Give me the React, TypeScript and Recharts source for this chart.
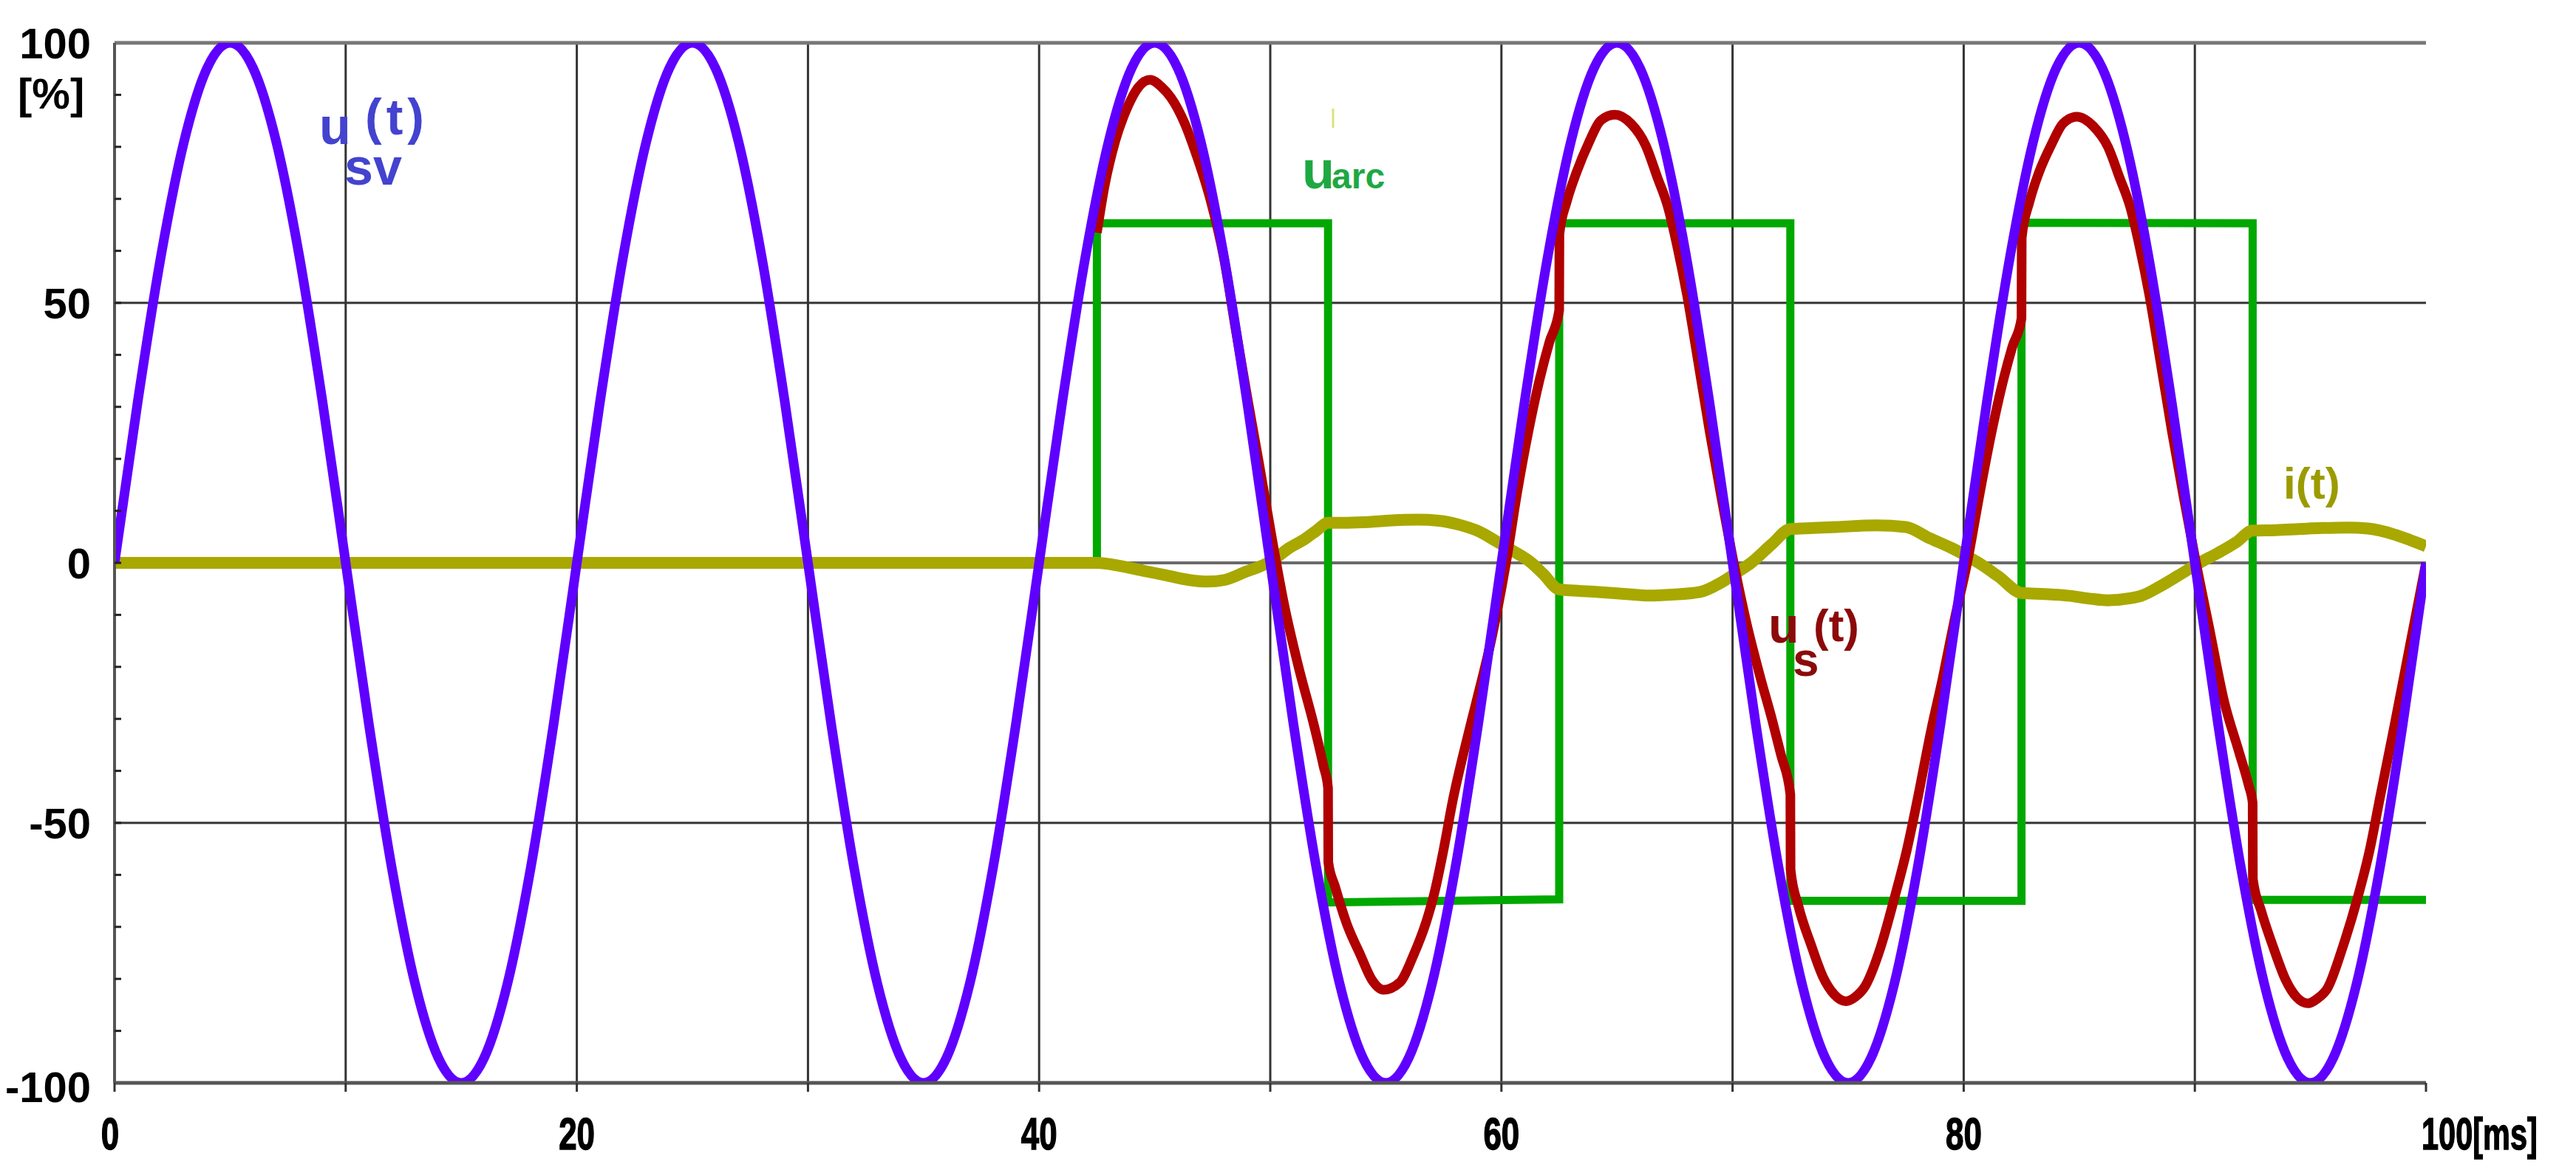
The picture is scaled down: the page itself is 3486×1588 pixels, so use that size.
import React from 'react';
import { LineChart, Line, XAxis, YAxis, CartesianGrid } from 'recharts';

const W = 3486;
const H = 1588;
const FONT = '"Liberation Sans", Arial, Helvetica, sans-serif';

// u_sv(t) - source voltage, read every 1 ms
const svTimes = [
  0, 1, 2, 3, 4, 5, 6, 7, 8, 9, 10, 11, 12, 13, 14, 15, 16, 17, 18, 19,
  20, 21, 22, 23, 24, 25, 26, 27, 28, 29, 30, 31, 32, 33, 34, 35, 36, 37, 38, 39,
  40, 41, 42, 43, 44, 45, 46, 47, 48, 49, 50, 51, 52, 53, 54, 55, 56, 57, 58, 59,
  60, 61, 62, 63, 64, 65, 66, 67, 68, 69, 70, 71, 72, 73, 74, 75, 76, 77, 78, 79,
  80, 81, 82, 83, 84, 85, 86, 87, 88, 89, 90, 91, 92, 93, 94, 95, 96, 97, 98, 99,
  100,
];
const svValues = [
  0, 30.9, 58.8, 80.9, 95.1, 100, 95.1, 80.9, 58.8, 30.9, 0, -30.9, -58.8, -80.9, -95.1, -100, -95.1, -80.9, -58.8, -30.9,
  0, 30.9, 58.8, 80.9, 95.1, 100, 95.1, 80.9, 58.8, 30.9, 0, -30.9, -58.8, -80.9, -95.1, -100, -95.1, -80.9, -58.8, -30.9,
  0, 30.9, 58.8, 80.9, 95.1, 100, 95.1, 80.9, 58.8, 30.9, 0, -30.9, -58.8, -80.9, -95.1, -100, -95.1, -80.9, -58.8, -30.9,
  0, 30.9, 58.8, 80.9, 95.1, 100, 95.1, 80.9, 58.8, 30.9, 0, -30.9, -58.8, -80.9, -95.1, -100, -95.1, -80.9, -58.8, -30.9,
  0, 30.9, 58.8, 80.9, 95.1, 100, 95.1, 80.9, 58.8, 30.9, 0, -30.9, -58.8, -80.9, -95.1, -100, -95.1, -80.9, -58.8, -30.9,
  0,
];

// u_arc - arc voltage [t, %]
const arcPoints: [number, number][] = [
  [0, 0], [42.5, 0], [42.5, 65.3], [52.5, 65.3], [52.5, -65.3], [62.5, -64.7],
  [62.5, 65.3], [72.5, 65.3], [72.5, -65], [82.5, -65], [82.5, 65.4], [92.5, 65.3],
  [92.5, -64.8], [100, -64.8],
];

// i(t) - current [t, %]
const currentPoints: [number, number][] = [
  [0, 0], [42.5, 0], [43.5, -0.6], [44.5, -1.5], [45.5, -2.4], [46.5, -3.3], [47.3, -3.6],
  [48.0, -3.3], [49.0, -1.6], [49.5, -0.8], [50.1, 0.5], [50.8, 2.8], [51.5, 4.6], [52.0, 6.2],
  [52.5, 7.7], [53.2, 7.7], [54.0, 7.8], [55.0, 8.1], [56.4, 8.3], [57.3, 8.1], [58.2, 7.3],
  [59.0, 6.1], [59.8, 4.1], [60.5, 2.3], [61.3, 0], [61.8, -2.1], [62.5, -5.1], [63.0, -5.3],
  [64.2, -5.6], [65.4, -6.0], [66.4, -6.3], [67.4, -6.1], [68.6, -5.6], [69.5, -3.8], [70.3, -1.5],
  [70.8, 0], [71.7, 3.6], [72.5, 6.5], [73.5, 6.7], [74.5, 6.9], [76.2, 7.2], [77.5, 6.9],
  [78.5, 4.8], [79.5, 2.8], [80.1, 1.4], [80.65, 0], [81.5, -2.6], [82.5, -5.8], [83.5, -6.0],
  [84.5, -6.3], [85.5, -6.9], [86.2, -7.2], [87.2, -6.8], [87.7, -6.3], [88.5, -4.5], [89.3, -2.4],
  [90.2, 0], [91.0, 1.9], [91.8, 4.0], [92.5, 6.2], [93.5, 6.3], [94.5, 6.5], [95.5, 6.7],
  [96.6, 6.8], [97.5, 6.6], [98.6, 5.5], [99.3, 4.4], [100, 3.2],
];

// u_s(t) - voltage after arc ignition [t, %]; the jumps sit at the arc steps
const usPoints: [number, number][] = [
  [42.5, 63.5], [42.8, 71.7], [43.3, 81.2], [43.85, 87.9], [44.3, 91.5], [44.8, 92.9],
  [45.3, 91.5], [45.7, 89.5], [46.3, 84.5], [46.8, 78.5], [47.4, 70], [48.0, 58.5], [48.5, 45],
  [49.0, 32], [49.5, 19.5], [50.1, 4], [50.6, -8], [51.2, -19.6], [51.9, -31.4], [52.3, -39],
  [52.5, -43.3], [52.51, -57.5], [52.8, -62.2], [53.3, -69.3], [53.9, -75.4], [54.4, -80.2],
  [54.9, -82.1], [55.6, -80.7], [56.2, -75.4], [56.75, -69], [57.1, -63.5], [57.5, -55.1],
  [57.9, -45.6], [58.45, -35], [58.9, -27], [59.6, -14], [60.2, 0], [60.7, 14], [61.2, 26],
  [61.64, 35], [62.08, 42.5], [62.5, 48.6], [62.51, 63.2], [62.83, 69.5], [63.25, 75.1],
  [63.78, 80.8], [64.3, 85.1], [64.9, 86.2], [65.6, 84.5], [66.24, 80.3], [66.75, 74.1],
  [67.2, 68.5], [67.6, 61], [68.03, 51.5], [68.5, 39], [69.0, 25.5], [69.5, 13], [70.05, 0],
  [70.6, -11.5], [71.2, -22], [71.7, -30], [72.1, -37], [72.5, -44.5], [72.51, -59], [72.85, -66],
  [73.4, -73.5], [73.9, -79.5], [74.4, -83], [74.9, -84.3], [75.3, -83.5], [75.75, -81.3],
  [76.4, -74], [77.0, -64.5], [77.55, -55], [78.0, -45.5], [78.6, -32], [79.1, -22], [79.6, -11],
  [80.15, 0], [80.7, 13.5], [81.2, 25], [81.65, 34], [82.1, 41.5], [82.5, 47], [82.51, 62.5],
  [82.85, 69.5], [83.25, 75], [83.8, 80.5], [84.3, 84.5], [84.9, 85.8], [85.6, 84], [86.24, 80],
  [86.75, 74], [87.2, 68.5], [87.6, 61], [88.03, 51.5], [88.5, 39], [89.0, 25.5], [89.5, 13],
  [90.05, 0], [90.6, -12], [91.27, -26.7], [91.9, -36.2], [92.33, -42.8], [92.5, -46.1],
  [92.51, -60.8], [92.87, -66.9], [93.4, -74], [93.93, -80.2], [94.4, -83.5], [94.89, -84.7],
  [95.3, -83.8], [95.75, -81.7], [96.39, -74], [97.03, -64.6], [97.57, -55.1], [97.99, -45.6],
  [98.63, -31.4], [99.3, -16], [100, 0],
];

const xTicks = [0, 10, 20, 30, 40, 50, 60, 70, 80, 90, 100];
const yTicks = [-100, -90, -80, -70, -60, -50, -40, -30, -20, -10, 0, 10, 20, 30, 40, 50, 60, 70, 80, 90, 100];
const gridTimes = [10, 20, 30, 40, 50, 60, 70, 80, 90];
const gridLevels = [-50, 50];

const svData = svTimes.map((t, i) => ({ t, v: svValues[i] }));
const toData = (pts: [number, number][]) => pts.map(([t, v]) => ({ t, v }));

const yLabelStyle = { fontFamily: FONT, fontWeight: 700, fontSize: 58, fill: '#000' };
const xLabelStyle = {
  fontFamily: FONT,
  fontWeight: 700,
  fontSize: 61,
  fill: '#000',
  stroke: '#000',
  strokeWidth: 1.5,
};

const LeftTick = ({ x, y, payload }: any) => {
  const v = payload.value;
  return (
    <g>
      {Math.abs(v) !== 100 && (
        <line x1={x} x2={x + 9} y1={y} y2={y} stroke="#222" strokeWidth={3} />
      )}
      {v % 50 === 0 && (
        <text x={x - 32} y={y + (v === -100 ? 26 : 21)} textAnchor="end" {...yLabelStyle}>
          {v}
        </text>
      )}
      {v === 100 && (
        <text x={24} y={147} textAnchor="start" {...yLabelStyle}>
          [%]
        </text>
      )}
    </g>
  );
};

const RightTick = ({ x, y, payload }: any) => {
  const v = payload.value;
  if (Math.abs(v) === 100 || v === 0) return <g />;
  return <line x1={x - 9} x2={x} y1={y} y2={y} stroke="#222" strokeWidth={3} />;
};

// x labels in the original are a tall, condensed bold face
const BottomTick = ({ x, y, payload }: any) => {
  const v = payload.value;
  const ty = y + 90;
  return (
    <g>
      <line x1={x} x2={x} y1={y} y2={y + 12} stroke="#333" strokeWidth={3} />
      {v === 100 ? (
        <text transform={`translate(${x - 6},${ty}) scale(0.68,1)`} textAnchor="start" {...xLabelStyle}>
          100[ms]
        </text>
      ) : v % 20 === 0 ? (
        <text
          transform={`translate(${v === 0 ? x - 6 : x},${ty}) scale(0.72,1)`}
          textAnchor="middle"
          {...xLabelStyle}
        >
          {v}
        </text>
      ) : null}
    </g>
  );
};

const Annotations = () => (
  <svg
    width={W}
    height={H}
    style={{ position: 'absolute', left: 0, top: 0, pointerEvents: 'none' }}
    fontFamily={FONT}
    fontWeight={700}
  >
    <text x={432} y={195} fontSize={70} fill="#4343cf">u</text>
    <text x={494} y={182} fontSize={68} letterSpacing={6} fill="#4343cf">(t)</text>
    <text x={466} y={250} fontSize={70} fill="#4343cf">sv</text>

    <line x1={1804} x2={1804} y1={147} y2={173} stroke="#d9e27a" strokeWidth={3} />
    <text x={1762} y={255} fontSize={72} fill="#1ea843">u</text>
    <text x={1802} y={255} fontSize={48} fill="#1ea843">arc</text>

    <text x={2393} y={870} fontSize={68} fill="#8c0a0a">u</text>
    <text x={2426} y={915} fontSize={64} fill="#8c0a0a">s</text>
    <text x={2454} y={868} fontSize={62} fill="#8c0a0a">(t)</text>

    <text x={3090} y={675} fontSize={60} fill="#9b9b00">i(t)</text>
  </svg>
);

export default function App() {
  return (
    <div style={{ position: 'absolute', left: 0, top: 0, width: W, height: H, background: '#fff' }}>
      <LineChart width={W} height={H} margin={{ top: 58, right: 203, bottom: 0, left: 0 }}>
        <CartesianGrid
          verticalValues={gridTimes}
          horizontalValues={gridLevels}
          stroke="#333"
          strokeWidth={3}
        />
        <CartesianGrid horizontalValues={[0]} vertical={false} stroke="#6a6a6a" strokeWidth={4} />
        <CartesianGrid horizontalValues={[100]} vertical={false} stroke="#777" strokeWidth={5} />
        <XAxis
          type="number"
          dataKey="t"
          domain={[0, 100]}
          ticks={xTicks}
          interval={0}
          allowDataOverflow
          height={122}
          tickSize={0}
          tickMargin={0}
          tickLine={false}
          axisLine={{ stroke: '#555', strokeWidth: 5 }}
          tick={(p: any) => <BottomTick {...p} />}
        />
        <YAxis
          type="number"
          domain={[-100, 100]}
          ticks={yTicks}
          interval={0}
          allowDataOverflow
          width={155}
          tickSize={0}
          tickMargin={0}
          tickLine={false}
          axisLine={{ stroke: '#555', strokeWidth: 4 }}
          tick={(p: any) => <LeftTick {...p} />}
        />
        <YAxis
          yAxisId="r"
          orientation="right"
          type="number"
          domain={[-100, 100]}
          ticks={yTicks}
          interval={0}
          allowDataOverflow
          width={0}
          tickSize={0}
          tickMargin={0}
          tickLine={false}
          axisLine={{ stroke: '#333', strokeWidth: 3 }}
          tick={(p: any) => <RightTick {...p} />}
        />
        <Line
          data={toData(arcPoints)}
          dataKey="v"
          type="linear"
          stroke="#00a800"
          strokeWidth={11}
          dot={false}
          activeDot={false}
          isAnimationActive={false}
        />
        <Line
          data={toData(currentPoints)}
          dataKey="v"
          type="monotone"
          stroke="#a8a800"
          strokeWidth={16}
          dot={false}
          activeDot={false}
          isAnimationActive={false}
        />
        <Line
          data={toData(usPoints)}
          dataKey="v"
          type="monotone"
          stroke="#b00000"
          strokeWidth={13}
          strokeLinejoin="round"
          dot={false}
          activeDot={false}
          isAnimationActive={false}
        />
        <Line
          data={svData}
          dataKey="v"
          type="monotone"
          stroke="#5f00ff"
          strokeWidth={13}
          dot={false}
          activeDot={false}
          isAnimationActive={false}
        />
      </LineChart>
      <Annotations />
    </div>
  );
}
